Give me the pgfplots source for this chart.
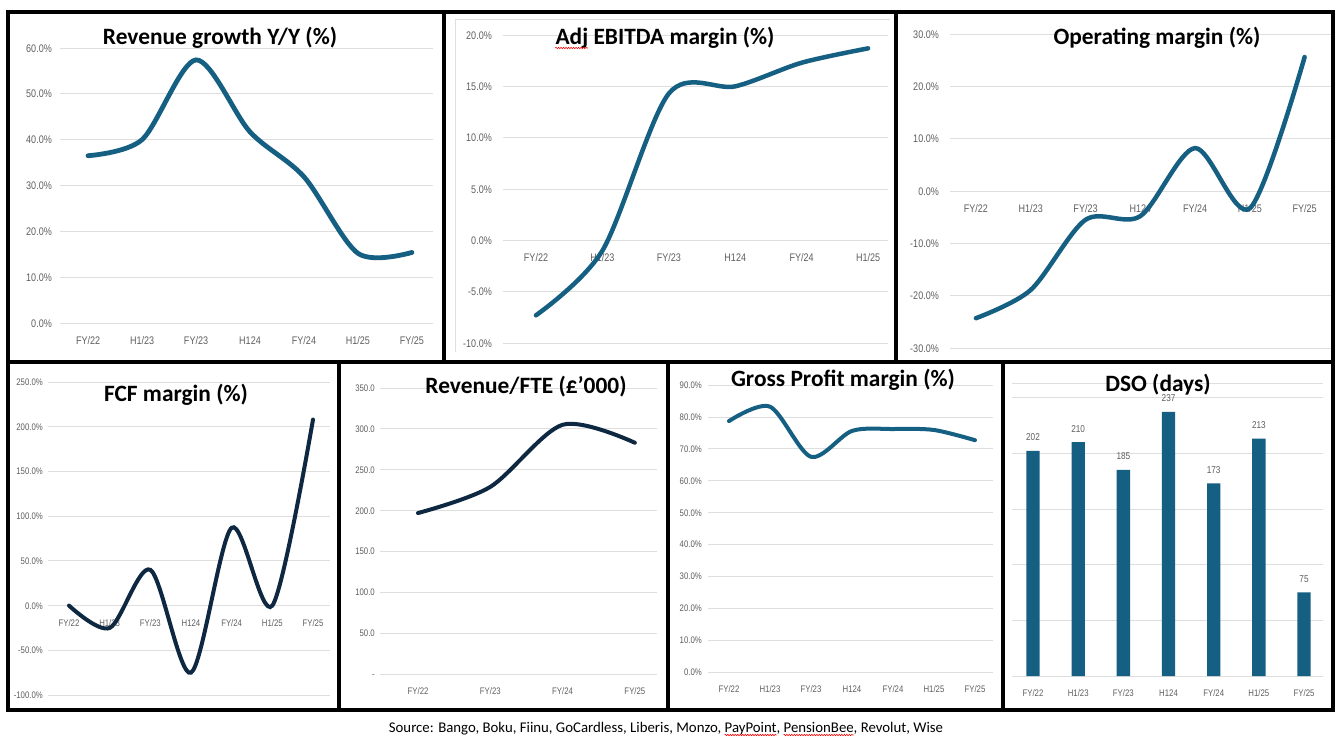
\documentclass[border=0pt]{standalone}
\usepackage{pgfplots}
\pgfplotsset{compat=1.18}
\usetikzlibrary{decorations.pathmorphing}
\usepackage{fontspec}
\setmainfont{Carlito}
\newfontfamily\tickfont[FakeStretch=0.82]{Liberation Sans}
\definecolor{teal}{HTML}{156082}
\definecolor{navy}{HTML}{0E2841}
\definecolor{gridc}{RGB}{222,222,222}
\definecolor{tickc}{RGB}{95,95,95}
\newcommand\titlefont{\bfseries\fontsize{23.4}{28}\selectfont}
\newcommand\srcfont{\fontsize{14.8}{17}\selectfont}
\newlength\adjw \newlength\prefw \newlength\ppw \newlength\ppcw \newlength\pbw
\tikzset{squiggle/.style={red, line width=0.6pt, decorate, decoration={snake, amplitude=0.7pt, segment length=2.5pt}}}
\pgfplotsset{
  panel/.style={
    scale only axis, clip=false, anchor=south west,
    axis x line*=middle, axis y line*=left,
    axis line style={draw=none},
    major tick length=0pt,
    ymajorgrids, grid style={gridc, line width=0.8pt},
    /pgf/number format/assume math mode=true,
    tick label style={text=tickc, inner sep=0pt},
  },
  toprow/.style={
    panel,
    tick label style={font=\tickfont\fontsize{11}{13}\selectfont},
    xticklabel style={anchor=base, yshift=-21pt},
    yticklabel style={anchor=base east, yshift=-4pt},
  },
  botrow/.style={
    panel,
    tick label style={font=\tickfont\fontsize{9.5}{11}\selectfont},
    xticklabel style={anchor=base, yshift=-20.5pt},
    yticklabel style={anchor=base east, yshift=-3.5pt},
  },
  curve/.style={smooth, tension=0.5, line width=#1, line cap=round, mark=none},
}
\begin{document}%
\settowidth{\adjw}{\titlefont Adj}%
\settowidth{\prefw}{\srcfont Source: Bango, Boku, Fiinu, GoCardless, Liberis, Monzo, }%
\settowidth{\ppw}{\srcfont PayPoint}%
\settowidth{\ppcw}{\srcfont PayPoint, }%
\settowidth{\pbw}{\srcfont PensionBee}%
\begin{tikzpicture}[x=1pt,y=1pt]
\useasboundingbox (0,0) rectangle (1343,-737);
\fill[white] (0,0) rectangle (1343,-737);

% Revenue growth
\begin{axis}[toprow, at={(60pt,-323pt)}, width=373pt, height=275pt,
  xmin=-0.52, xmax=6.39, ymin=0, ymax=60,
  xtick={0,...,6}, xticklabels={FY/22,H1/23,FY/23,H124,FY/24,H1/25,FY/25},
  ytick={0,10,...,60}, yticklabels={0.0\%,10.0\%,20.0\%,30.0\%,40.0\%,50.0\%,60.0\%},
  yticklabel style={xshift=-8pt}]
\addplot[curve=4.8pt, teal] coordinates {(0,36.5) (1,40.0) (2,57.4) (3,41.7) (4,31.9) (5,15.2) (6,15.4)};
\end{axis}

% Adj EBITDA
\draw[gray!25, line width=0.8pt] (455,-352) -- (455,-19) -- (890,-19);
\begin{axis}[toprow, at={(503pt,-343pt)}, width=385pt, height=308pt,
  xmin=-0.497, xmax=5.30, ymin=-10, ymax=20,
  xtick={0,...,5}, xticklabels={FY/22,H1/23,FY/23,H124,FY/24,H1/25},
  ytick={-10,-5,...,20}, yticklabels={-10.0\%,-5.0\%,0.0\%,5.0\%,10.0\%,15.0\%,20.0\%},
  yticklabel style={xshift=-11pt}]
\addplot[curve=4.5pt, teal] coordinates {(0,-7.3) (1,-1.0) (2,14.3) (3,15.0) (4,17.3) (5,18.7)};
\end{axis}

% Operating margin
\begin{axis}[toprow, at={(950pt,-348pt)}, width=382pt, height=314pt,
  xmin=-0.474, xmax=6.50, ymin=-30, ymax=30,
  xtick={0,...,6}, xticklabels={FY/22,H1/23,FY/23,H124,FY/24,H1/25,FY/25},
  ytick={-30,-20,...,30}, yticklabels={-30.0\%,-20.0\%,-10.0\%,0.0\%,10.0\%,20.0\%,30.0\%},
  yticklabel style={xshift=-11pt}]
\addplot[curve=4.5pt, teal] coordinates {(0,-24.3) (1,-18.9) (2,-5.5) (3,-4.8) (4,8.2) (5,-3.3) (6,25.6)};
\end{axis}

% FCF margin
\begin{axis}[botrow, at={(48pt,-695pt)}, width=282pt, height=313pt,
  xmin=-0.516, xmax=6.418, ymin=-100, ymax=250,
  xtick={0,...,6}, xticklabels={FY/22,H1/23,FY/23,H124,FY/24,H1/25,FY/25},
  ytick={-100,-50,...,250}, yticklabels={-100.0\%,-50.0\%,0.0\%,50.0\%,100.0\%,150.0\%,200.0\%,250.0\%},
  yticklabel style={xshift=-5pt}]
\addplot[curve=4pt, navy] coordinates {(0,0) (1,-25) (2,40) (3,-75) (4,87) (5,0) (6,208)};
\end{axis}

% Revenue/FTE
\begin{axis}[botrow, at={(380pt,-674pt)}, width=277pt, height=286pt,
  xmin=-0.526, xmax=3.306, ymin=0, ymax=350,
  xtick={0,...,3}, xticklabels={FY/22,FY/23,FY/24,FY/25},
  ytick={0,50,...,350}, yticklabels={-,50.0,100.0,150.0,200.0,250.0,300.0,350.0},
  yticklabel style={xshift=-5pt}]
\addplot[curve=4pt, navy] coordinates {(0,197) (1,229) (2,305) (3,283)};
\end{axis}

% Gross profit margin
\begin{axis}[botrow, at={(708pt,-672pt)}, width=285pt, height=287pt,
  xmin=-0.512, xmax=6.44, ymin=0, ymax=90,
  xtick={0,...,6}, xticklabels={FY/22,H1/23,FY/23,H124,FY/24,H1/25,FY/25},
  ytick={0,10,...,90}, yticklabels={0.0\%,10.0\%,20.0\%,30.0\%,40.0\%,50.0\%,60.0\%,70.0\%,80.0\%,90.0\%},
  yticklabel style={xshift=-6pt}]
\addplot[curve=4pt, teal] coordinates {(0,78.7) (1,83.2) (2,67.5) (3,75.6) (4,76.2) (5,75.9) (6,72.7)};
\end{axis}

% DSO
\draw[gridc, line width=0.8pt] (1012,-383) -- (1323,-383);
\begin{axis}[botrow, at={(1012pt,-676pt)}, width=311pt, height=278.5pt,
  xmin=-0.465, xmax=6.42, ymin=0, ymax=250,
  xtick={0,...,6}, xticklabels={FY/22,H1/23,FY/23,H124,FY/24,H1/25,FY/25},
  ytick={0,50,...,250}, yticklabels={},
  ybar, bar width=13.3pt, bar shift=0pt,
  nodes near coords,
  every node near coord/.append style={font=\tickfont\fontsize{10}{12}\selectfont, text=tickc, anchor=base, yshift=10pt, inner sep=0pt}]
\addplot[draw=none, fill=teal] coordinates {(0,202) (1,210) (2,185) (3,237) (4,173) (5,213) (6,75)};
\end{axis}

% titles
\begin{scope}[every node/.style={anchor=base, inner sep=0pt, font=\titlefont}]
\node at (220,-44) {Revenue growth Y/Y (\%)};
\node (t2) at (665,-44) {Adj EBITDA margin (\%)};
\node at (1157,-44) {Operating margin (\%)};
\node at (176,-401) {FCF margin (\%)};
\node at (526,-393) {Revenue/FTE (£’000)};
\node at (843,-386) {Gross Profit margin (\%)};
\node at (1158,-391) {DSO (days)};
\end{scope}
\draw[squiggle] ([yshift=-4pt]t2.base west) -- ++(\adjw,0);

% frames
\draw[line width=4pt] (8,-12) rectangle (1333,-710);
\draw[line width=4pt] (8,-362) -- (1333,-362);
\draw[line width=4pt] (444,-12) -- (444,-362);
\draw[line width=4pt] (896,-12) -- (896,-362);
\draw[line width=4pt] (339,-362) -- (339,-710);
\draw[line width=4pt] (668,-362) -- (668,-710);
\draw[line width=4pt] (1003,-362) -- (1003,-710);

\node (src) [anchor=base, inner sep=0pt, font=\srcfont] at (666,-732)
  {Source: Bango, Boku, Fiinu, GoCardless, Liberis, Monzo, PayPoint, PensionBee, Revolut, Wise};
\draw[squiggle] ([xshift=\prefw, yshift=-3pt]src.base west) -- ++(\ppw,0);
\draw[squiggle] ([xshift=\prefw+\ppcw, yshift=-3pt]src.base west) -- ++(\pbw,0);
\end{tikzpicture}%
\end{document}
